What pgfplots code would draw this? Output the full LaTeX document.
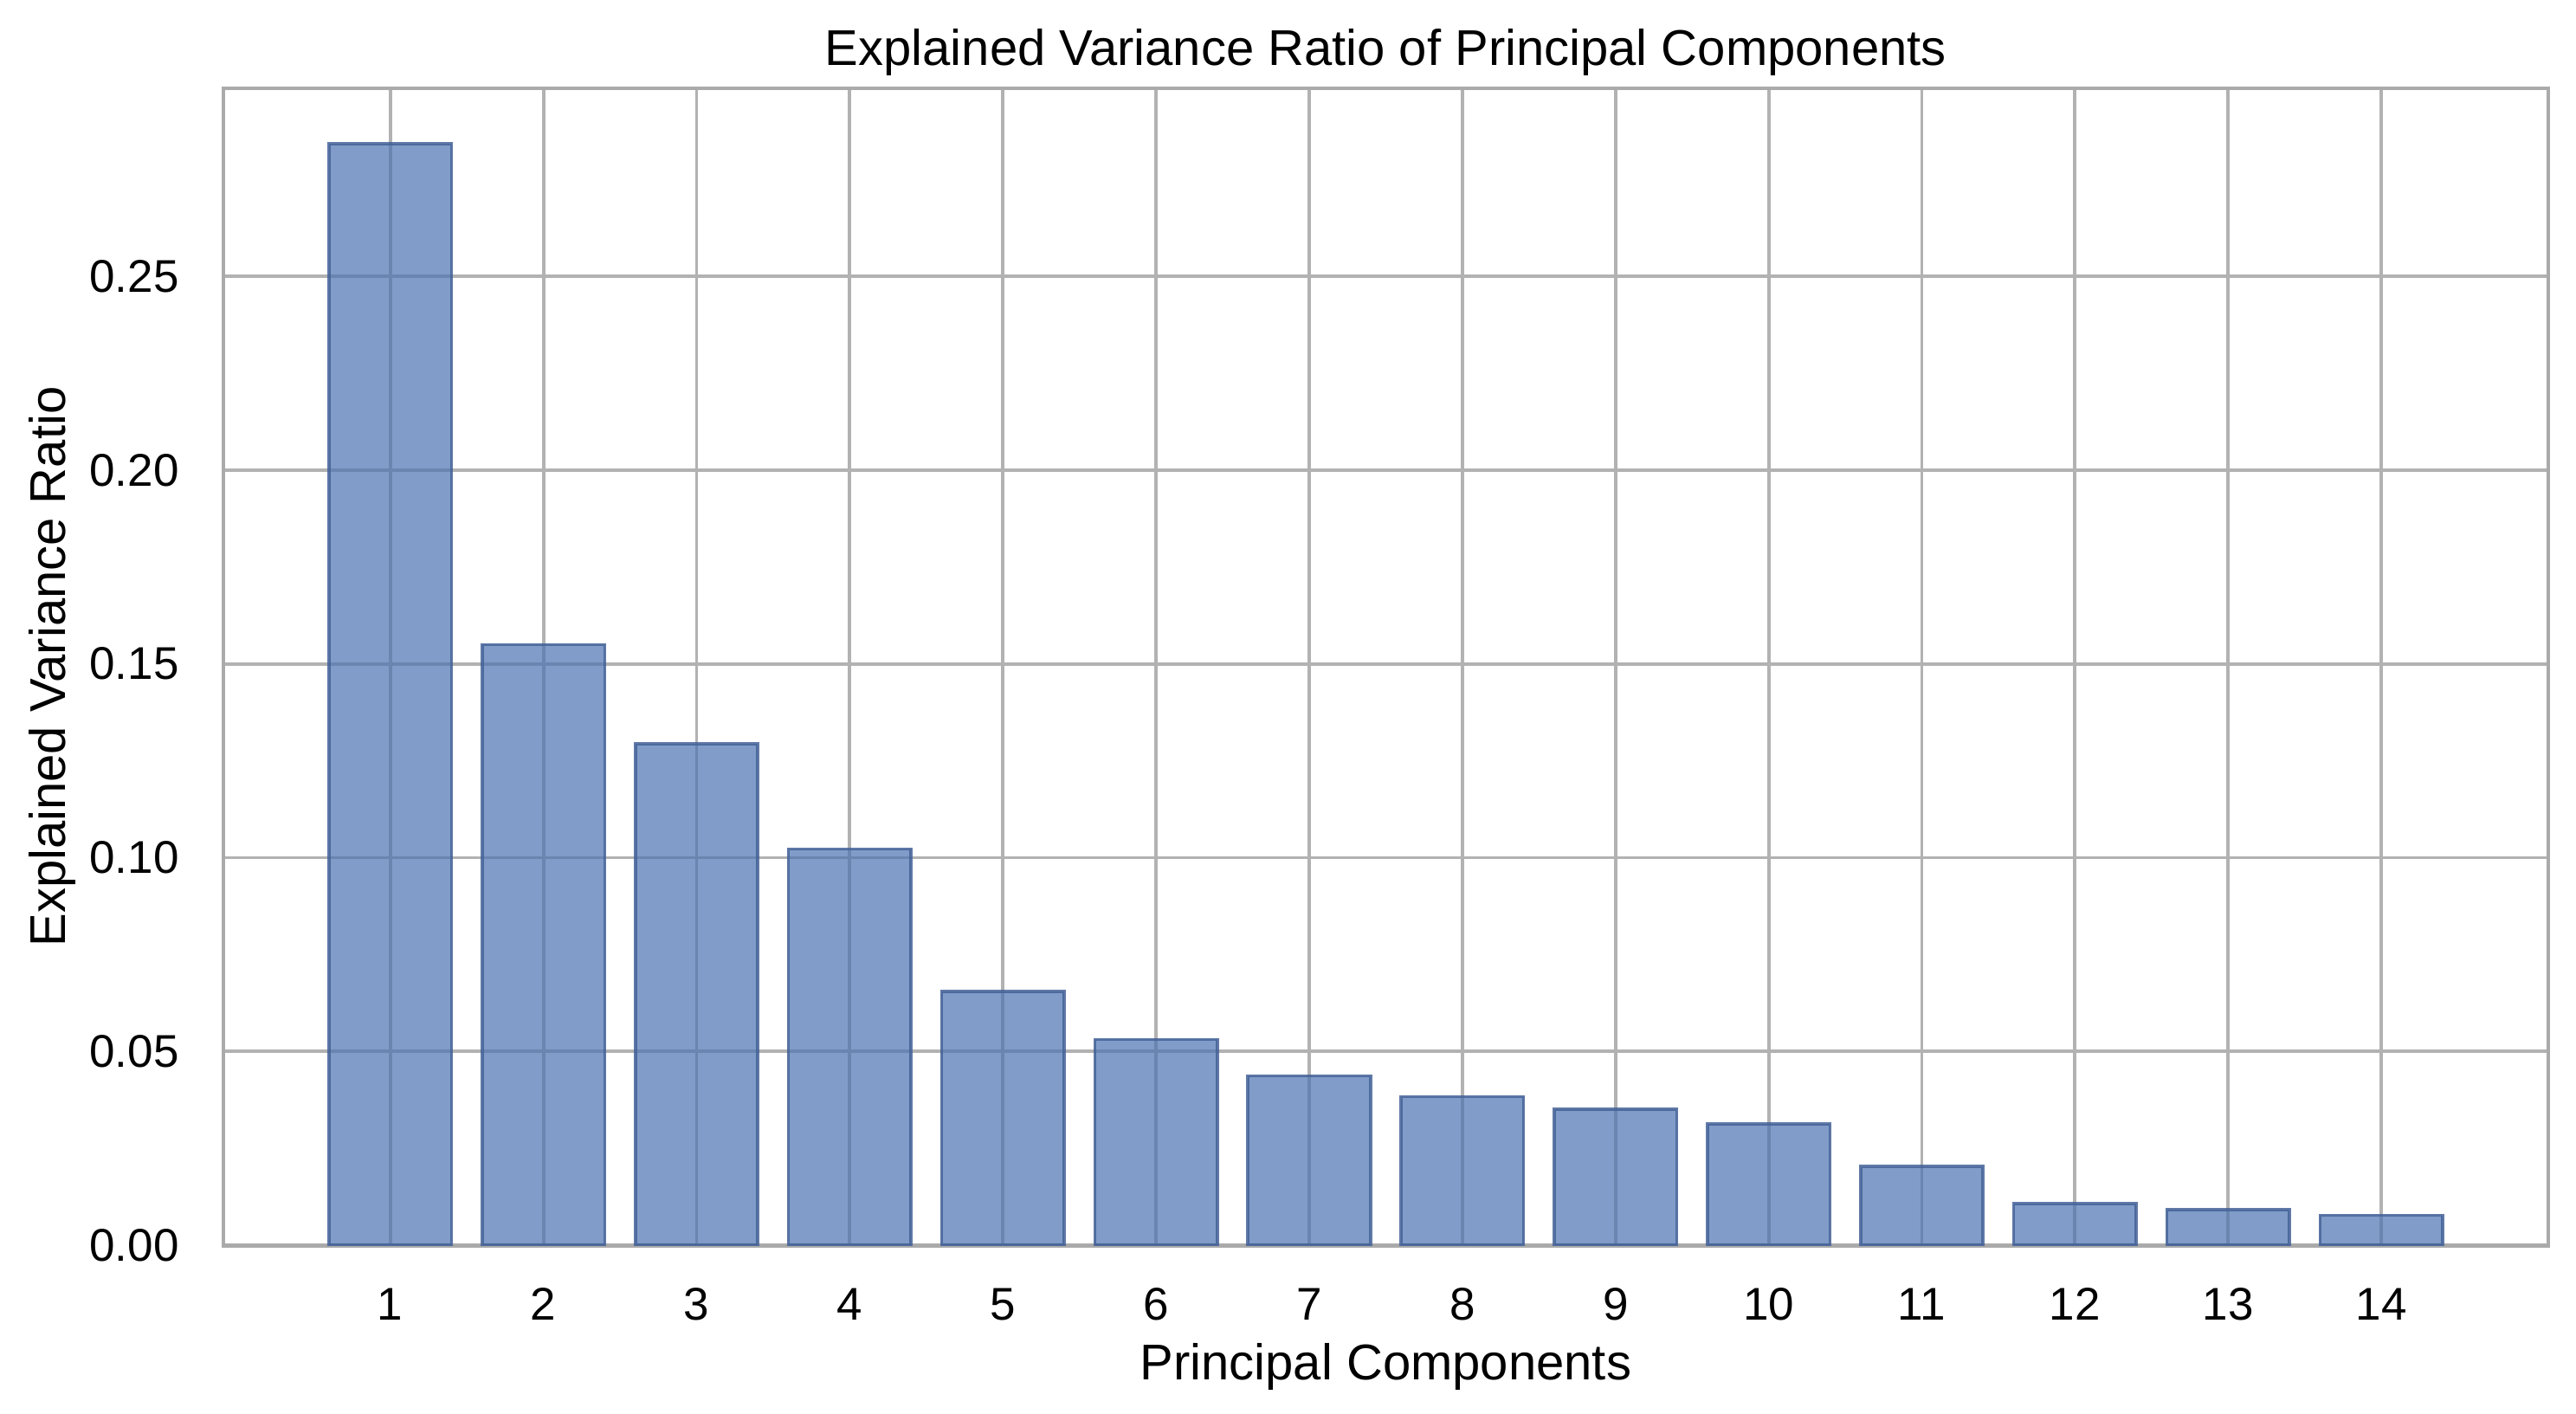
\documentclass[border=0pt]{standalone}
\usepackage{fontspec}
\setmainfont{Liberation Sans}
\usepackage{pgfplots}
\pgfplotsset{compat=1.18}
\definecolor{barblue}{RGB}{76,114,176}
\definecolor{edgeblue}{RGB}{68,98,152}
\definecolor{gridgray}{RGB}{178,178,178}
\definecolor{framegray}{RGB}{170,170,170}
\begin{document}
\begin{tikzpicture}
\begin{axis}[
  scale only axis,
  width=902.5pt, height=449.1pt,
  xmin=-0.09, xmax=15.09,
  ymin=0, ymax=0.2985,
  xtick={1,2,3,4,5,6,7,8,9,10,11,12,13,14},
  ytick={0,0.05,0.10,0.15,0.20,0.25},
  yticklabel style={/pgf/number format/fixed, /pgf/number format/fixed zerofill, /pgf/number format/precision=2},
  /pgf/number format/assume math mode=true,
  major tick length=0pt,
  grid=major,
  major grid style={color=gridgray, line width=1.3pt},
  axis line style={color=framegray, line width=1.6pt},
  tick label style={font=\fontsize{17.8}{21}\selectfont, inner sep=0pt},
  xticklabel style={anchor=base, yshift=-29.2pt},
  yticklabel style={anchor=east, xshift=-17.1pt},
  title={Explained Variance Ratio of Principal Components},
  title style={font=\fontsize{19.5}{23}\selectfont, at={(0.5,1.02)}, anchor=base, yshift=-6pt, inner sep=0pt},
  xlabel={Principal Components},
  xlabel style={font=\fontsize{19.5}{23}\selectfont, at={(0.5,-0.116)}, anchor=base, inner sep=0pt},
  ylabel={Explained Variance Ratio},
  ylabel style={font=\fontsize{19.5}{23}\selectfont, at={(-0.0678,0.5)}, anchor=base, inner sep=0pt},
]
\addplot[ybar, bar width=0.8, fill=barblue, fill opacity=0.7, draw=edgeblue, draw opacity=0.85, line width=1.2pt]
coordinates {
(1,0.2842) (2,0.1550) (3,0.1294) (4,0.1022) (5,0.0655) (6,0.0531) (7,0.0437)
(8,0.0383) (9,0.0351) (10,0.0313) (11,0.0203) (12,0.0108) (13,0.0092) (14,0.0077)
};
\coordinate (BL) at (rel axis cs:0,0);
\coordinate (TR) at (rel axis cs:1,1);
\end{axis}
\pgfresetboundingbox
\path[use as bounding box] ([shift={(-86.7pt,-65.5pt)}]BL) rectangle ([shift={(10.8pt,34.3pt)}]TR);
\end{tikzpicture}
\end{document}
